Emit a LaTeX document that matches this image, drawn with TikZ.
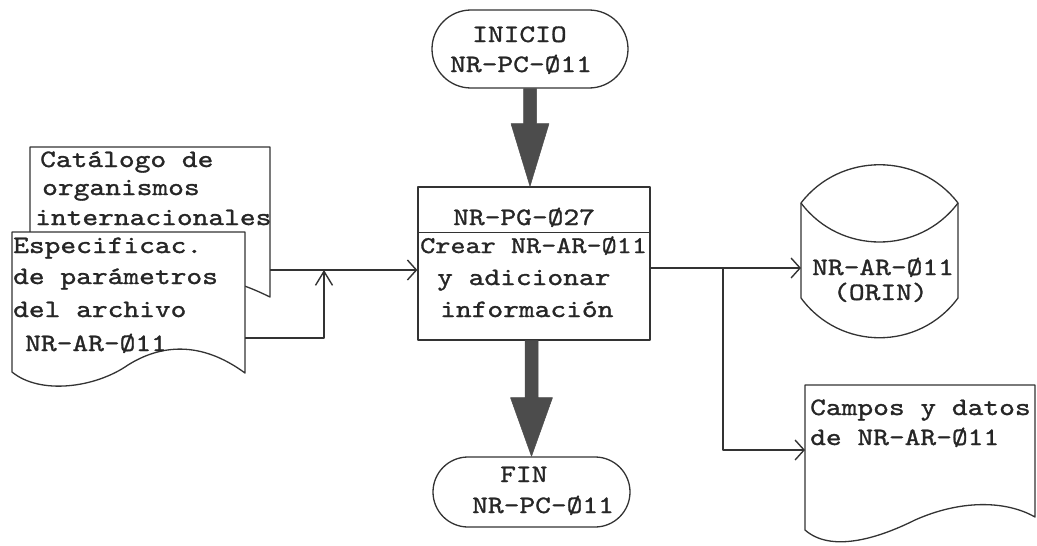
\documentclass[tikz,border=0pt]{standalone}
\usepackage{fontspec}
\setmonofont{lmmono10-regular}[Extension=.otf, FakeStretch=1.2, FakeBold=1.2]
\usetikzlibrary{arrows.meta,calc}
\newcommand{\tw}{\ttfamily\fontsize{25}{30}\selectfont}
\begin{document}
\begin{tikzpicture}[x=1pt,y=-1pt, line join=round,
  ln/.style={draw=black!80, line width=1.3pt},
  txt/.style={anchor=base west, inner sep=0pt, font=\tw, text=black!85},
  barb/.style={-{Straight Barb[length=9pt,width=20pt,line width=1.4pt]}},
  upbarb/.style={-{Straight Barb[length=14pt,width=17pt,line width=1.4pt]}},
  bigarr/.style={fill=black!70, draw=black!70, line width=0.5pt}]
\useasboundingbox (0,0) rectangle (1037,546);

% --- Catalogo document
\draw[ln, fill=white] (30,147) -- (270,147) -- (270,297)
  .. controls (235,280) and (200,268) .. (150,290)
  .. controls (110,308) and (60,310) .. (30,288) -- cycle;
\node[txt] (cat1) at (40,167) {Catálogo de};
\node[txt] (cat2) at (42,195) {organismos};
\node[txt] (cat3) at (35,225) {internacionales};
\coordinate (catout) at (270,270);

% --- Especificac document
\draw[ln, fill=white] (12,232) -- (245,232) -- (245,373)
  .. controls (200,340) and (160,345) .. (128,365)
  .. controls (95,388) and (40,395) .. (12,372) -- cycle;
\node[txt] (esp1) at (13,253) {Especificac.};
\node[txt] (esp2) at (13,284) {de parámetros};
\node[txt] (esp3) at (13,317) {del archivo};
\node[txt] (esp4) at (25,351) {NR-AR-Ø11};
\coordinate (espout) at (245,338);
\coordinate (jn) at (324,270);

% --- terminals
\node[ln, rounded corners=39pt, minimum width=196pt, minimum height=78pt, inner sep=0pt] (inicio) at (530,49) {};
\node[txt] (ini1) at (472,42) {INICIO};
\node[txt] (ini2) at (450,72) {NR-PC-Ø11};

\node[ln, rounded corners=35pt, minimum width=197pt, minimum height=70pt, inner sep=0pt] (fin) at (531.5,492) {};
\node[txt] (fin1) at (500,482) {FIN};
\node[txt] (fin2) at (472,513) {NR-PC-Ø11};

% --- process box
\node[ln, minimum width=232pt, minimum height=153pt, inner sep=0pt] (box) at (534,263.5) {};
\draw[ln] ($(box.north west)+(0,46)$) -- ($(box.north east)+(0,46)$);
\node[txt] (pg) at (453,225) {NR-PG-Ø27};
\node[txt, font=\ttfamily\fontsize{24}{30}\selectfont] (cr) at (420,253) {Crear NR-AR-Ø11};
\node[txt] (ya) at (437,285) {y adicionar};
\node[txt] (inf) at (440,317) {información};

% --- cylinder
\draw[ln, fill=white] (801,203) .. controls (840,152) and (919,152) .. (958,203)
  -- (958,298) .. controls (919,351) and (840,351) .. (801,298) -- cycle;
\draw[ln] (801,203) .. controls (840,255) and (919,255) .. (958,203);
\node[txt] (cy1) at (812,275) {NR-AR-Ø11};
\node[txt] (cy2) at (833,300) {(ORIN)};
\coordinate (cylin) at (801,268);

% --- Campos document
\draw[ln, fill=white] (805,385) -- (1035,385) -- (1035,517)
  .. controls (1005,500) and (960,500) .. (915,520)
  .. controls (875,540) and (830,552) .. (805,530) -- cycle;
\node[txt] (ca1) at (810,415) {Campos y datos};
\node[txt] (ca2) at (810,445) {de NR-AR-Ø11};
\coordinate (camin) at (805,450);
\coordinate (br) at (723,268);

% --- connectors
\draw[ln, barb] (catout) -- (catout -| box.west);
\draw[ln, upbarb] (espout) -- (espout -| jn) -- (jn);
\draw[ln, barb] (box.east |- cylin) -- (cylin);
\draw[ln, barb] (br) -- (br |- camin) -- (camin);

% --- thick arrows
\path (inicio.south) coordinate (a1) (a1 |- box.north) coordinate (a2);
\fill[bigarr] ($(a1)+(-6.5,0)$) -- ($(a1)+(6.5,0)$) -- ($(a1)+(6.5,35)$)
  -- ($(a1)+(19,35)$) -- (a2) -- ($(a1)+(-19,35)$) -- ($(a1)+(-6.5,35)$) -- cycle;
\path (fin.north |- box.south) coordinate (b1) (fin.north) coordinate (b2);
\fill[bigarr] ($(b1)+(-6.5,0)$) -- ($(b1)+(6.5,0)$) -- ($(b1)+(6.5,57)$)
  -- ($(b1)+(21,57)$) -- (b2) -- ($(b1)+(-21,57)$) -- ($(b1)+(-6.5,57)$) -- cycle;
\end{tikzpicture}
\end{document}
